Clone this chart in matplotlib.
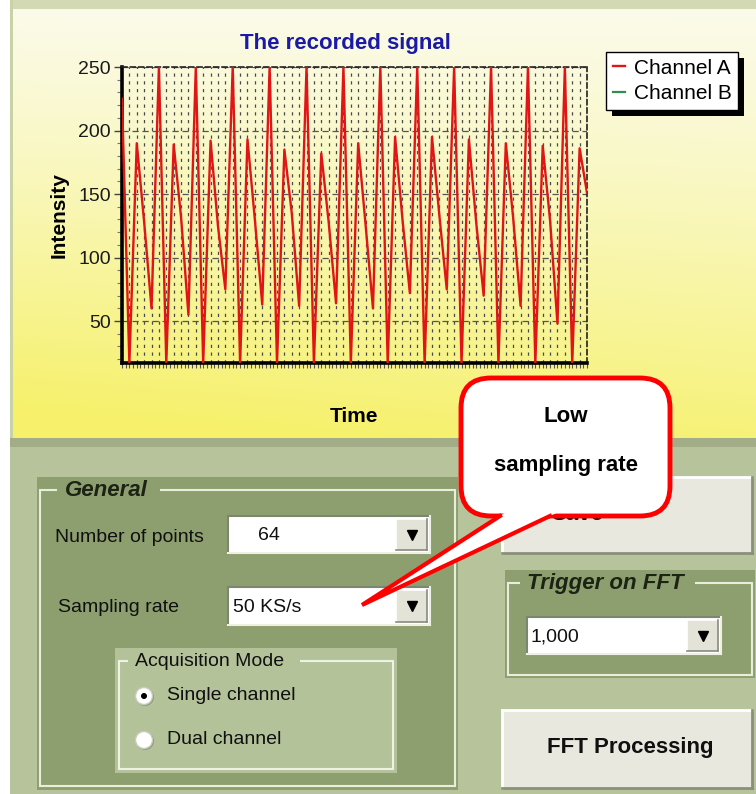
import numpy as np
import matplotlib
matplotlib.use("Agg")
import matplotlib.pyplot as plt
from matplotlib.patches import Rectangle, FancyBboxPatch, Polygon, Circle
from matplotlib.ticker import MultipleLocator

plt.rcParams["font.family"] = ["Liberation Sans", "DejaVu Sans"]

W, H = 756, 794

# ---- data: 64 points recorded at 50 KS/s (20 us per sample) ----
sample_idx = np.arange(64)
time_us = sample_idx * 20
channel_a = [225, 17, 190, 128, 60,
             250, 17, 189, 132, 55,
             250, 17, 192, 125, 75,
             250, 17, 193, 130, 63,
             250, 17, 185, 135, 62,
             250, 17, 182, 128, 64,
             250, 17, 190, 126, 60,
             250, 17, 195, 130, 72,
             250, 17, 195, 133, 75,
             250, 17, 193, 127, 70,
             250, 17, 190, 131, 62,
             250, 17, 188, 129, 48,
             250, 17, 186, 151]
y_ticks = [50, 100, 150, 200, 250]
legend_labels = ["Channel A", "Channel B"]

RED = "#e01515"
PANEL = "#b6c39b"
GROUP_DARK = "#8e9f6f"
GROUP_LIGHT = "#b4c29a"

fig = plt.figure(figsize=(W / 100, H / 100), dpi=100, facecolor="white")

# background axes in pixel coordinates (y down)
bg = fig.add_axes([0, 0, 1, 1], zorder=0)
bg.set_xlim(0, W)
bg.set_ylim(H, 0)
bg.axis("off")


def rect(x0, y0, x1, y1, **kw):
    bg.add_patch(Rectangle((x0, y0), x1 - x0, y1 - y0, **kw))


def bevel(x0, y0, x1, y1, light="white", dark="#7d8670", lw=1.5, z=2):
    bg.plot([x0, x1], [y0, y0], color=light, lw=lw, zorder=z)
    bg.plot([x0, x0], [y0, y1], color=light, lw=lw, zorder=z)
    bg.plot([x0, x1], [y1, y1], color=dark, lw=lw, zorder=z)
    bg.plot([x1, x1], [y0, y1], color=dark, lw=lw, zorder=z)


# window frame + yellow chart panel with gradient
rect(10, 0, W, 9, fc="#d3d9b2", ec="none")
rect(10, 0, 13, 445, fc="#c9d1a6", ec="none")
v = np.linspace(0, 1, 200)[:, None]
u = np.linspace(0, 1, 200)[None, :]
s = np.clip(v ** 1.2 * 0.85 + 0.18 * (1 - u) * v + 0.05, 0, 1)
top_c = np.array([0.985, 0.985, 0.94])
bot_c = np.array([0.965, 0.945, 0.42])
grad = top_c[None, None, :] * (1 - s[..., None]) + bot_c[None, None, :] * s[..., None]
bg.imshow(grad, extent=(13, W, 438, 9), aspect="auto", zorder=0.5, interpolation="bilinear")

# lower control panel
rect(10, 438, W, 447, fc="#a2ad88", ec="none")
rect(10, 447, W, H, fc=PANEL, ec="none")

# ---- General group ----
rect(37, 477, 458, 790, fc=GROUP_DARK, ec="none", zorder=1)
rect(40, 490, 455, 786, fc="none", ec="#e9eedc", lw=1.5, zorder=1.5)
rect(57, 480, 160, 500, fc=GROUP_DARK, ec="none", zorder=1.6)
bg.text(65, 490, "General", fontsize=16, fontweight="bold", fontstyle="italic",
        color="#1c2214", va="center", zorder=3)

bg.text(55, 537, "Number of points", fontsize=14, color="#101010", va="center", zorder=3)
bg.text(58, 608, "Sampling rate", fontsize=14, color="#101010", va="center", zorder=3)


def combo(x0, y0, x1, y1, text, tx):
    rect(x0, y0, x1, y1, fc="white", ec="none", zorder=2)
    bevel(x0, y0, x1, y1, light="#7d8670", dark="#eef0e4", lw=1.5, z=2.1)
    bx0 = x1 - 34
    rect(bx0, y0 + 3, x1 - 3, y1 - 3, fc="#e3e3d8", ec="none", zorder=2.2)
    bevel(bx0, y0 + 3, x1 - 3, y1 - 3, light="white", dark="#8a8a80", lw=1.2, z=2.3)
    bg.plot((bx0 + x1 - 3) / 2, (y0 + y1) / 2, marker="v", color="black", ms=7, zorder=2.4)
    bg.text(tx, (y0 + y1) / 2 + 1, text, fontsize=14, color="#101010", va="center", zorder=3)


combo(228, 516, 430, 553, "64", 258)
combo(228, 587, 430, 625, "50 KS/s", 233)

# Acquisition Mode group
rect(115, 648, 397, 773, fc=GROUP_LIGHT, ec="none", zorder=1.7)
rect(119, 661, 393, 769, fc="none", ec="#eef2e2", lw=1.5, zorder=1.8)
rect(128, 650, 300, 672, fc=GROUP_LIGHT, ec="none", zorder=1.9)
bg.text(135, 662, "Acquisition Mode", fontsize=14, color="#101010", va="center", zorder=3)
for cy, lab, on in [(696, "Single channel", True), (740, "Dual channel", False)]:
    bg.add_patch(Circle((145, cy + 1), 9, fc="#8f9a80", ec="none", zorder=2))
    bg.add_patch(Circle((144, cy), 8.5, fc="white", ec="#c8ccbc", lw=1, zorder=2.1))
    if on:
        bg.add_patch(Circle((144, cy), 3, fc="black", ec="none", zorder=2.2))
    bg.text(167, cy, lab, fontsize=14, color="#101010", va="center", zorder=3)

# ---- right column: buttons and trigger group ----
rect(502, 477, 752, 553, fc="#e8e8de", ec="none", zorder=1)
bevel(502, 477, 752, 553, light="white", dark="#8a9078", lw=2, z=1.2)
bg.text(577, 515, "Save", fontsize=16, fontweight="bold", color="#101010",
        ha="center", va="center", zorder=3)

rect(505, 570, 755, 678, fc=GROUP_DARK, ec="none", zorder=1)
rect(508, 583, 752, 675, fc="none", ec="#e9eedc", lw=1.5, zorder=1.5)
rect(520, 573, 695, 593, fc=GROUP_DARK, ec="none", zorder=1.6)
bg.text(527, 583, "Trigger on FFT", fontsize=16, fontweight="bold", fontstyle="italic",
        color="#1c2214", va="center", zorder=3)
combo(527, 617, 721, 654, "1,000", 530)

rect(502, 710, 752, 788, fc="#e8e8de", ec="none", zorder=1)
bevel(502, 710, 752, 788, light="white", dark="#8a9078", lw=2, z=1.2)
bg.text(630, 748, "FFT Processing", fontsize=16, fontweight="bold", color="#101010",
        ha="center", va="center", zorder=3)

# ---- callout bubble ----
bg.add_patch(FancyBboxPatch((461, 378), 209, 138, boxstyle="round,pad=0,rounding_size=30",
                            fc="white", ec="#ff0000", lw=3.5, zorder=5))
tip = np.array([362, 605])
b1 = np.array([500, 516])
b2 = np.array([550, 516])
bg.add_patch(Polygon([tip, b1 + (b1 - tip) * 0.12, b2 + (b2 - tip) * 0.12],
                     closed=True, fc="white", ec="none", zorder=6))
bg.plot([b1[0], tip[0], b2[0]], [b1[1], tip[1], b2[1]], color="#ff0000", lw=3,
        solid_joinstyle="miter", zorder=7)
bg.text(566, 416, "Low", fontsize=16, fontweight="bold", color="black",
        ha="center", va="center", zorder=8)
bg.text(566, 465, "sampling rate", fontsize=16, fontweight="bold", color="black",
        ha="center", va="center", zorder=8)

# ---- chart ----
bg.text(345, 43, "The recorded signal", fontsize=16, fontweight="bold", color="#1a1aa6",
        ha="center", va="center", zorder=3)

ax = fig.add_axes([122 / W, 1 - 363 / H, 465 / W, 296 / H], zorder=1)
ax.set_facecolor("none")
line_a, = ax.plot(time_us, channel_a, color=RED, lw=1.7, label=legend_labels[0], zorder=3)
line_b, = ax.plot([], [], color="#2f8f4f", lw=1.6, label=legend_labels[1])
ax.set_xlim(time_us[0], time_us[-1])
ax.set_ylim(17, 250)

ax.xaxis.set_major_locator(MultipleLocator(20))
ax.xaxis.set_minor_locator(MultipleLocator(10))
ax.set_yticks(y_ticks)
ax.yaxis.set_minor_locator(MultipleLocator(10))
ax.grid(axis="x", which="major", color="#4a4a4a", linestyle=(0, (2.6, 3.6)), lw=0.9)
ax.grid(axis="y", which="major", color="#555555", linestyle=(0, (5, 3)), lw=0.9)
ax.set_axisbelow(True)

ax.tick_params(axis="x", which="both", direction="out", length=3.5, width=0.8,
               color="#555555", labelbottom=False)
ax.tick_params(axis="y", which="major", direction="out", length=6, width=1,
               color="#444444", labelsize=14, labelcolor="#1a1a1a", pad=2)
ax.tick_params(axis="y", which="minor", direction="out", length=3.5, width=0.8, color="#777777")

for side in ["left", "bottom"]:
    ax.spines[side].set_linewidth(2.6)
    ax.spines[side].set_color("black")
for side in ["top", "right"]:
    ax.spines[side].set_linewidth(1.2)
    ax.spines[side].set_linestyle((0, (3, 2)))
    ax.spines[side].set_color("#222222")

ax.set_ylabel("Intensity", fontsize=15, fontweight="bold", va="center")
ax.yaxis.set_label_coords((59 - 122) / 465, 0.5)
ax.set_xlabel("Time", fontsize=15, fontweight="bold", va="center")
ax.xaxis.set_label_coords(0.5, (363 - 416) / 296)

leg = ax.legend(handles=[line_a, line_b], loc="upper left",
                bbox_to_anchor=(606 / W, 1 - 52 / H), bbox_transform=fig.transFigure,
                frameon=True, fancybox=False, edgecolor="black", framealpha=1,
                fontsize=15, handlelength=0.6, handletextpad=0.4, borderpad=0.32,
                labelspacing=0.3, borderaxespad=0)
leg.get_frame().set_linewidth(1.0)

# legend drop shadow, placed from the drawn legend box
fig.canvas.draw()
bb = leg.get_window_extent()
rect(bb.x0 + 6, H - bb.y1 + 6, bb.x1 + 6, H - bb.y0 + 6, fc="black", ec="none", zorder=4)

fig.savefig("out.png", dpi=100)
